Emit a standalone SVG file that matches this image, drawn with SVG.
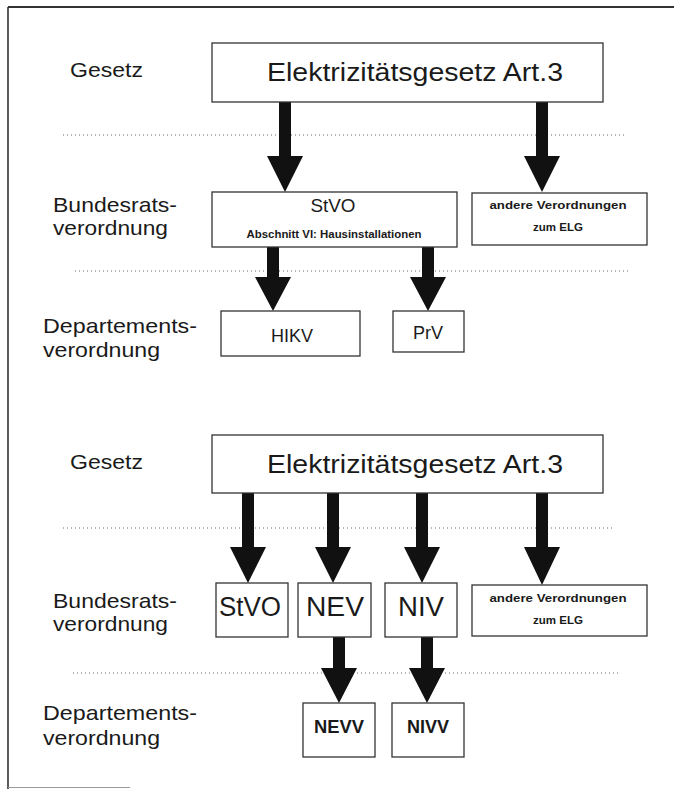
<svg xmlns="http://www.w3.org/2000/svg" width="674" height="789" viewBox="0 0 674 789">
<style>
  .box{fill:#fff;stroke:#333;stroke-width:1.3}
  .t{font-family:"Liberation Sans",Arial,Helvetica,sans-serif;fill:#1a1a1a}
  .lbl{font-size:21px}
  .big{font-size:25px;text-anchor:middle}
  .mid{font-size:18px;text-anchor:middle}
  .lg{font-size:27px;text-anchor:middle}
  .sm{font-size:11px;font-weight:bold;text-anchor:middle}
  .bd{font-size:18px;font-weight:bold;text-anchor:middle}
  .dot{stroke:#666;stroke-width:1.2;stroke-dasharray:1 3;fill:none}
  .frame{stroke:#333;fill:none}
  .arr{fill:#111}
</style>

<!-- frame -->
<line class="frame" x1="8" y1="7" x2="674" y2="7" stroke-width="2"/>
<line class="frame" x1="8" y1="7" x2="8" y2="789" stroke-width="1.6"/>
<line x1="8" y1="787.5" x2="130" y2="787.5" stroke="#999" stroke-width="1"/>

<!-- dotted separators -->
<g id="separators">
  <line class="dot" x1="63" y1="135" x2="627" y2="135"/>
  <line class="dot" x1="75" y1="271" x2="631" y2="271"/>
  <line class="dot" x1="63" y1="528" x2="612" y2="528"/>
  <line class="dot" x1="73" y1="673" x2="620" y2="673"/>
</g>

<!-- row labels -->
<g id="labels">
  <text class="t lbl" x="70" y="77" textLength="73" lengthAdjust="spacingAndGlyphs">Gesetz</text>
  <text class="t lbl" x="53" y="212" textLength="124" lengthAdjust="spacingAndGlyphs">Bundesrats-</text>
  <text class="t lbl" x="53" y="235" textLength="115" lengthAdjust="spacingAndGlyphs">verordnung</text>
  <text class="t lbl" x="43" y="333" textLength="154" lengthAdjust="spacingAndGlyphs">Departements-</text>
  <text class="t lbl" x="43" y="357" textLength="117" lengthAdjust="spacingAndGlyphs">verordnung</text>

  <text class="t lbl" x="70" y="469" textLength="73" lengthAdjust="spacingAndGlyphs">Gesetz</text>
  <text class="t lbl" x="53" y="608" textLength="124" lengthAdjust="spacingAndGlyphs">Bundesrats-</text>
  <text class="t lbl" x="53" y="631" textLength="115" lengthAdjust="spacingAndGlyphs">verordnung</text>
  <text class="t lbl" x="43" y="720" textLength="154" lengthAdjust="spacingAndGlyphs">Departements-</text>
  <text class="t lbl" x="43" y="745" textLength="117" lengthAdjust="spacingAndGlyphs">verordnung</text>
</g>

<!-- connectors -->
<g id="connectors" class="arr">
  <!-- upper diagram -->
  <polygon points="279,102 291,102 291,156 303,156 285,192 267,156 279,156"/>
  <polygon points="536,102 548,102 548,156 560,156 542,192 524,156 536,156"/>
  <polygon points="267,247 279,247 279,277 291,277 273,311 255,277 267,277"/>
  <polygon points="422,247 434,247 434,277 446,277 428,311 410,277 422,277"/>
  <!-- lower diagram -->
  <polygon points="242,493 254,493 254,547 266,547 248,583 230,547 242,547"/>
  <polygon points="327,493 339,493 339,547 351,547 333,583 315,547 327,547"/>
  <polygon points="416,493 428,493 428,547 440,547 422,583 404,547 416,547"/>
  <polygon points="536,493 548,493 548,547 560,547 542,585 524,547 536,547"/>
  <polygon points="333,637 345,637 345,668 357,668 339,703 321,668 333,668"/>
  <polygon points="421,637 433,637 433,668 445,668 427,703 409,668 421,668"/>
</g>

<!-- upper diagram nodes -->
<g id="elg1">
  <rect class="box" x="212" y="43" width="391" height="59"/>
  <text class="t big" x="415" y="81" textLength="296" lengthAdjust="spacingAndGlyphs">Elektrizitätsgesetz Art.3</text>
</g>
<g id="stvo1">
  <rect class="box" x="212" y="192" width="245" height="55"/>
  <text class="t mid" x="333" y="212" textLength="45" lengthAdjust="spacingAndGlyphs">StVO</text>
  <text class="t sm" x="334" y="238" textLength="175" lengthAdjust="spacingAndGlyphs">Abschnitt VI: Hausinstallationen</text>
</g>
<g id="andere1">
  <rect class="box" x="472" y="193" width="175" height="52"/>
  <text class="t sm" x="558" y="209" textLength="137" lengthAdjust="spacingAndGlyphs">andere Verordnungen</text>
  <text class="t sm" x="558" y="231" textLength="50" lengthAdjust="spacingAndGlyphs">zum ELG</text>
</g>
<g id="hikv">
  <rect class="box" x="221" y="311" width="139" height="45"/>
  <text class="t mid" x="292" y="342">HIKV</text>
</g>
<g id="prv">
  <rect class="box" x="393" y="311" width="71" height="41"/>
  <text class="t mid" x="428" y="339">PrV</text>
</g>

<!-- lower diagram nodes -->
<g id="elg2">
  <rect class="box" x="212" y="435" width="391" height="58"/>
  <text class="t big" x="415" y="473" textLength="296" lengthAdjust="spacingAndGlyphs">Elektrizitätsgesetz Art.3</text>
</g>
<g id="stvo2">
  <rect class="box" x="216" y="583" width="72" height="54"/>
  <text class="t lg" x="250" y="616" textLength="62" lengthAdjust="spacingAndGlyphs">StVO</text>
</g>
<g id="nev">
  <rect class="box" x="298" y="583" width="73" height="54"/>
  <text class="t lg" x="335" y="616" textLength="58" lengthAdjust="spacingAndGlyphs">NEV</text>
</g>
<g id="niv">
  <rect class="box" x="385" y="583" width="72" height="54"/>
  <text class="t lg" x="421" y="616" textLength="46" lengthAdjust="spacingAndGlyphs">NIV</text>
</g>
<g id="andere2">
  <rect class="box" x="472" y="585" width="175" height="51"/>
  <text class="t sm" x="558" y="602" textLength="137" lengthAdjust="spacingAndGlyphs">andere Verordnungen</text>
  <text class="t sm" x="558" y="624" textLength="50" lengthAdjust="spacingAndGlyphs">zum ELG</text>
</g>
<g id="nevv">
  <rect class="box" x="303" y="703" width="72" height="54"/>
  <text class="t bd" x="339" y="733" textLength="50" lengthAdjust="spacingAndGlyphs">NEVV</text>
</g>
<g id="nivv">
  <rect class="box" x="392" y="703" width="72" height="54"/>
  <text class="t bd" x="428" y="733" textLength="42" lengthAdjust="spacingAndGlyphs">NIVV</text>
</g>
</svg>
